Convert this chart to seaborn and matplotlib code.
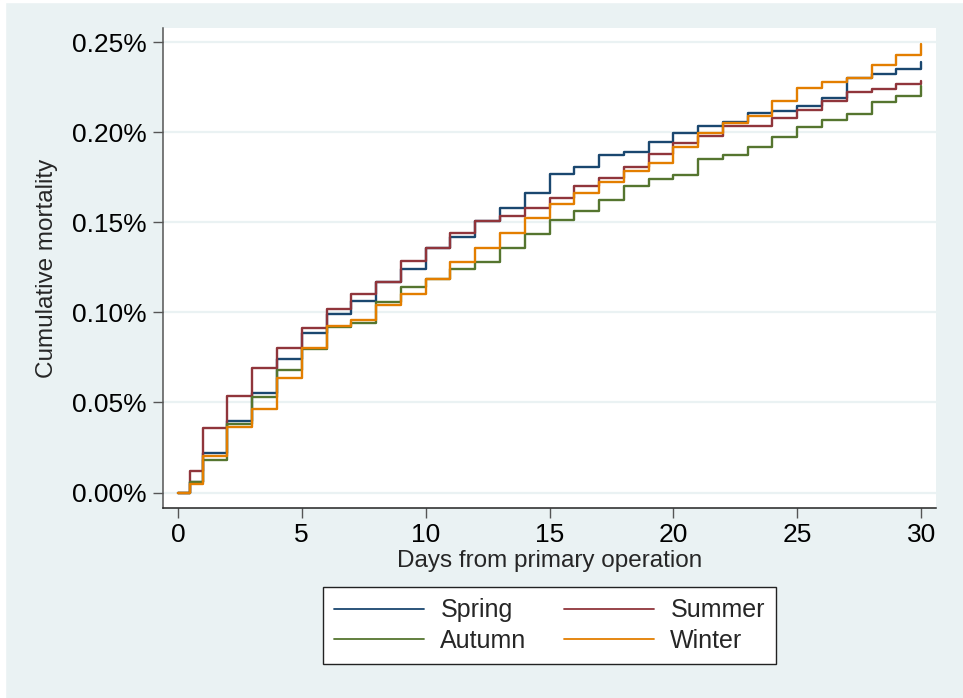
import numpy as np
import pandas as pd
import matplotlib
matplotlib.use("Agg")
import matplotlib.pyplot as plt
from matplotlib.lines import Line2D
from matplotlib.patches import Rectangle
import seaborn as sns

# ---- data (cumulative mortality, %) ----
days = [0, 0.5] + list(range(1, 31))
spring = [0, 0.006, 0.0218, 0.0399, 0.0551, 0.0742, 0.0886, 0.099, 0.1066, 0.1171,
          0.124, 0.1357, 0.142, 0.1508, 0.1579, 0.1666, 0.1769, 0.1807, 0.1875, 0.1893,
          0.1949, 0.1999, 0.2036, 0.206, 0.211, 0.2121, 0.2147, 0.2193, 0.2301, 0.2323,
          0.2351, 0.239]
summer = [0, 0.0121, 0.036, 0.0538, 0.0693, 0.0801, 0.0916, 0.1019, 0.1101, 0.1171,
          0.1286, 0.1357, 0.1443, 0.1508, 0.1536, 0.1579, 0.1638, 0.1703, 0.1746, 0.1807,
          0.1881, 0.1943, 0.1981, 0.2038, 0.2038, 0.2082, 0.2125, 0.2177, 0.2223, 0.224,
          0.2269, 0.2288]
autumn = [0, 0.006, 0.018, 0.038, 0.0529, 0.068, 0.0796, 0.0921, 0.0943, 0.1057,
          0.114, 0.1184, 0.1243, 0.1279, 0.136, 0.1434, 0.1514, 0.1566, 0.1625, 0.1703,
          0.174, 0.1764, 0.1851, 0.1875, 0.1918, 0.1977, 0.2029, 0.2069, 0.2103, 0.2168,
          0.2204, 0.2258]
winter = [0, 0.0046, 0.0204, 0.0362, 0.0464, 0.0638, 0.0801, 0.0925, 0.0958, 0.1042,
          0.1102, 0.1184, 0.1279, 0.136, 0.144, 0.1523, 0.1601, 0.1662, 0.1723, 0.1788,
          0.1829, 0.1921, 0.1996, 0.2051, 0.2093, 0.2177, 0.2246, 0.2279, 0.2301, 0.2375,
          0.2431, 0.2492]
seasons = ["Spring", "Summer", "Autumn", "Winter"]
colors = ["#1a476f", "#90353b", "#55752f", "#e37e00"]
y_ticks = [0, 0.05, 0.10, 0.15, 0.20, 0.25]
x_ticks = [0, 5, 10, 15, 20, 25, 30]

series = dict(zip(seasons, [spring, summer, autumn, winter]))
df = pd.concat([pd.DataFrame({"day": days, "mort": v, "season": k}) for k, v in series.items()],
               ignore_index=True)

sns.set_theme(style="white")
plt.rcParams["font.family"] = ["Liberation Sans", "DejaVu Sans"]

bg = "#eaf2f3"
fig = plt.figure(figsize=(9.63, 6.98), dpi=100, facecolor=bg)
# thin white strips at left/top edges as in reference
fig.patches.append(Rectangle((0, 0), 5 / 963, 1, transform=fig.transFigure, color="white", zorder=-1))
fig.patches.append(Rectangle((0, 1 - 2 / 698), 1, 2 / 698, transform=fig.transFigure, color="white", zorder=-1))

ax = fig.add_axes([163 / 963, 1 - 508 / 698, (936 - 163) / 963, (508 - 28) / 698])
ax.set_facecolor("white")

sns.lineplot(data=df, x="day", y="mort", hue="season", hue_order=seasons,
             palette=colors, drawstyle="steps-post", linewidth=1.7,
             estimator=None, sort=False, legend=False, ax=ax)

ax.set_xlim(-0.6, 30.6)
ax.set_ylim(-0.0086, 0.258)
ax.set_yticks(y_ticks)
ax.set_yticklabels([f"{t:.2f}%" for t in y_ticks])
ax.set_xticks(x_ticks)
ax.set_xticklabels([str(t) for t in x_ticks])
for t in y_ticks:
    ax.axhline(t, color=bg, linewidth=1.6, zorder=0)

for s in ["top", "right"]:
    ax.spines[s].set_visible(False)
ax.spines["left"].set_color("#555555")
ax.spines["bottom"].set_color("#222222")
ax.spines["left"].set_linewidth(1.1)
ax.spines["bottom"].set_linewidth(1.1)
ax.tick_params(axis="both", direction="out", length=7, width=1.0, colors="#555555",
               labelsize=19, labelcolor="black", pad=5, left=True, bottom=True)
ax.tick_params(axis="x", pad=4)

ax.set_xlabel("Days from primary operation", fontsize=17.5, labelpad=2)
ax.set_ylabel("Cumulative mortality", fontsize=17.5, labelpad=10)

# legend filled row-wise: Spring, Summer / Autumn, Winter
order = [0, 2, 1, 3]
handles = [Line2D([0], [0], color=colors[i], linewidth=1.3) for i in order]
labels = [seasons[i] for i in order]
leg = fig.legend(handles, labels, loc="center", bbox_to_anchor=(549.5 / 963, 1 - 625.5 / 698),
                 ncol=2, frameon=True, fancybox=False, edgecolor="#222222", framealpha=1,
                 fontsize=18, handlelength=3.6, handletextpad=0.65, columnspacing=1.5,
                 borderpad=0.45, labelspacing=0.25)
leg.get_frame().set_linewidth(1.0)

fig.savefig("out.png", dpi=100, facecolor=bg)
